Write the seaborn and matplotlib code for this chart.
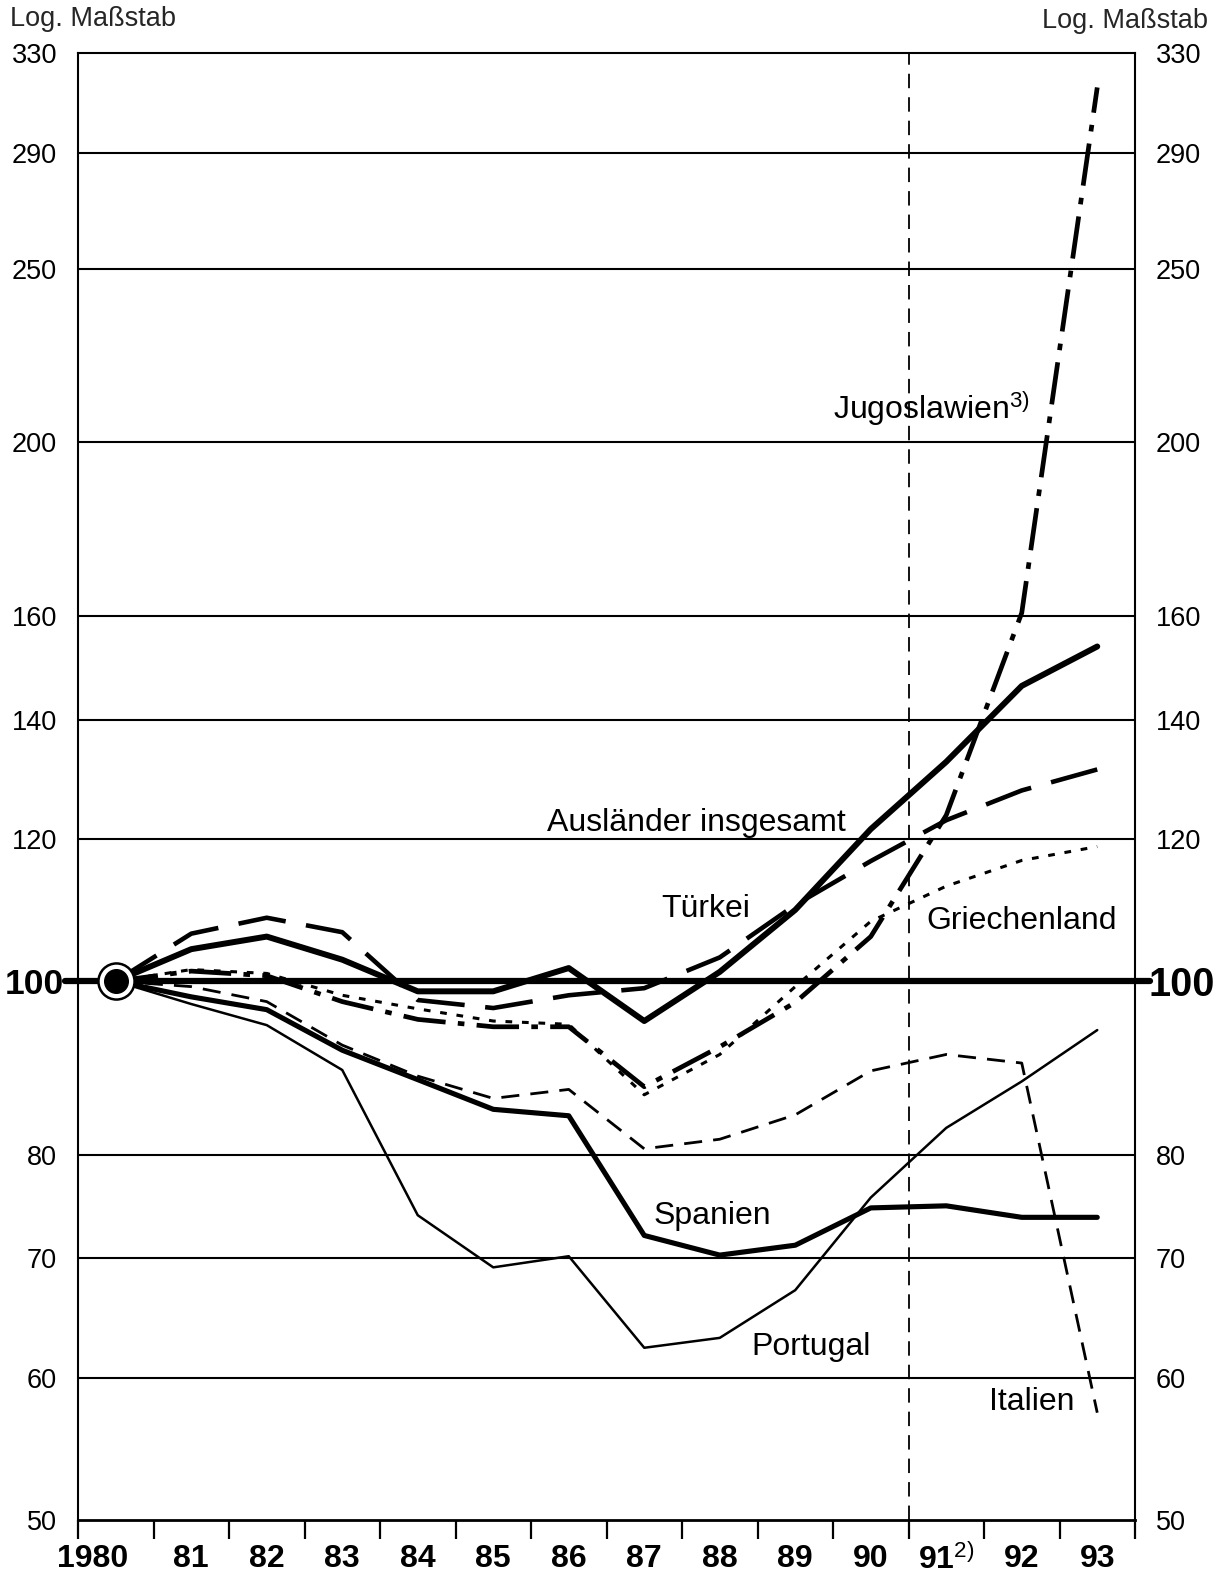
import numpy as np
import pandas as pd
import matplotlib
matplotlib.use("Agg")
import matplotlib.pyplot as plt
import seaborn as sns
from matplotlib.ticker import FixedLocator, FixedFormatter, NullLocator
from matplotlib.transforms import ScaledTranslation

# ---------------- data ----------------
years = ["1980", "81", "82", "83", "84", "85", "86", "87", "88", "89", "90",
         "91$^{2)}$", "92", "93"]
x_idx = list(range(len(years)))

auslaender = [100, 104.2, 105.9, 102.8, 98.7, 98.7, 101.7, 95.0, 101.2, 109.6, 121.6, 132.6, 146.2, 153.8]
tuerkei    = [100, 106.3, 108.5, 106.5, 97.6, 96.6, 98.2, 99.1, 103.1, 110.3, 116.7, 123.0, 127.8, 131.3]
jugoslawien = [100, 101.3, 100.7, 97.4, 95.2, 94.3, 94.3, 87.3, 91.9, 97.3, 105.9, 123.8, 160.6, 315.7]
griechenland = [100, 101.5, 101.0, 98.2, 96.5, 95.0, 94.6, 86.4, 91.0, 99.3, 108.0, 113.0, 116.8, 118.9]
italien    = [100, 99.3, 97.4, 92.1, 88.5, 86.0, 87.0, 80.6, 81.6, 84.2, 89.1, 91.0, 90.0, 57.4]
spanien    = [100, 98.0, 96.4, 91.5, 88.1, 84.8, 84.1, 72.1, 70.3, 71.2, 74.7, 74.9, 73.8, 73.8]
portugal   = [100, 97.1, 94.5, 89.2, 74.0, 69.2, 70.2, 62.4, 63.2, 67.2, 75.7, 82.8, 87.9, 93.9]

y_ticks = [50, 60, 70, 80, 100, 120, 140, 160, 200, 250, 290, 330]
grid_vals = [60, 70, 80, 120, 140, 160, 200, 250, 290]

# ---------------- style ----------------
sns.set_theme(style="white")
plt.rcParams["font.family"] = ["Liberation Sans", "DejaVu Sans"]
plt.rcParams["mathtext.fontset"] = "custom"
plt.rcParams["mathtext.rm"] = "Liberation Sans"
plt.rcParams["mathtext.it"] = "Liberation Sans"
plt.rcParams["mathtext.bf"] = "Liberation Sans:bold"

W, H = 1222, 1578
fig = plt.figure(figsize=(W / 100, H / 100), dpi=100)
L, R, T, B = 78, 1135, 53, 1520
ax = fig.add_axes([L / W, 1 - B / H, (R - L) / W, (B - T) / H])

series = [
    (auslaender,   dict(linewidth=4.3, linestyle="-")),
    (spanien,      dict(linewidth=3.7, linestyle="-")),
    (portugal,     dict(linewidth=1.8, linestyle="-")),
    (tuerkei,      dict(linewidth=3.3, linestyle=(0, (10.5, 4.5)))),
    (jugoslawien,  dict(linewidth=3.4, linestyle=(0, (9, 2.6, 1.4, 2.6)))),
    (griechenland, dict(linewidth=2.2, linestyle=(0, (2.2, 3.2)))),
    (italien,      dict(linewidth=2.0, linestyle=(0, (6.5, 4)))),
]
for vals, kw in series:
    df = pd.DataFrame({"x": x_idx, "y": vals})
    sns.lineplot(data=df, x="x", y="y", ax=ax, color="black", errorbar=None,
                 solid_capstyle="round", zorder=5, **kw)

# base-year marker
ax.plot(x_idx[0], auslaender[0], "o", ms=26, mfc="white", mec="black", mew=1.8, zorder=10)
ax.plot(x_idx[0], auslaender[0], "o", ms=17, color="black", zorder=11)

# ---------------- axes ----------------
ax.set_yscale("log")
ax.set_ylim(50, 330)
ax.set_xlim(-0.5, len(years) - 0.5)
ax.set_xlabel("")
ax.set_ylabel("")

for v in grid_vals:
    ax.axhline(v, color="black", lw=1.5, zorder=2)
ax.axhline(100, xmin=-0.0125, xmax=1.0142, color="black", lw=4.5, zorder=4, clip_on=False)
ax.axvline(10.5, color="black", lw=1.3, linestyle=(0, (8, 5)), zorder=2)

ax.yaxis.set_major_locator(FixedLocator(y_ticks))
ax.yaxis.set_major_formatter(FixedFormatter([str(v) for v in y_ticks]))
ax.yaxis.set_minor_locator(NullLocator())
ax.tick_params(axis="y", which="major", length=0, labelsize=19.5, pad=15,
               labelleft=True, labelright=True, colors="black")

ax.set_xticks(x_idx)
ax.set_xticklabels(years)
ax.set_xticks(np.arange(-0.5, len(years), 1.0), minor=True)
ax.tick_params(axis="x", which="major", length=0, pad=17.5, labelsize=23, colors="black")
ax.tick_params(axis="x", which="minor", length=14, width=1.6, direction="out",
               color="black", bottom=True)
for lab in ax.get_xticklabels():
    lab.set_fontweight("bold")

for side in ["left", "right", "top"]:
    ax.spines[side].set_color("black")
    ax.spines[side].set_linewidth(1.5)
    ax.spines[side].set_visible(True)
ax.spines["bottom"].set_color("black")
ax.spines["bottom"].set_linewidth(2.0)

fig.canvas.draw()
for t in ax.yaxis.get_major_ticks():
    if t.label1.get_text() == "100":
        t.label1.set_fontweight("bold")
        t.label1.set_fontsize(25.5)
        t.label2.set_fontweight("bold")
        t.label2.set_fontsize(28.5)
        t.set_pad(10)

# shift the "1980" label slightly left, as in the original
first = ax.xaxis.get_major_ticks()[0].label1
first.set_transform(first.get_transform() + ScaledTranslation(-0.23, 0, fig.dpi_scale_trans))

# ---------------- texts ----------------
fig.text(10 / W, 1 - 19 / H, "Log. Maßstab", fontsize=19.5, ha="left", va="center")
fig.text(1208 / W, 1 - 21 / H, "Log. Maßstab", fontsize=19.5, ha="right", va="center")

lab_kw = dict(fontsize=23, ha="left", va="center", color="black")
fig.text(833 / W, 1 - 408 / H, "Jugoslawien$^{3)}$", **lab_kw)
fig.text(547 / W, 1 - 823 / H, "Ausländer insgesamt", **lab_kw)
fig.text(661 / W, 1 - 909 / H, "Türkei", **lab_kw)
fig.text(926 / W, 1 - 921 / H, "Griechenland", **lab_kw)
fig.text(654 / W, 1 - 1216 / H, "Spanien", **lab_kw)
fig.text(751 / W, 1 - 1347 / H, "Portugal", **lab_kw)
fig.text(989 / W, 1 - 1402 / H, "Italien", **lab_kw)

fig.savefig("out.png", dpi=100, facecolor="white")
